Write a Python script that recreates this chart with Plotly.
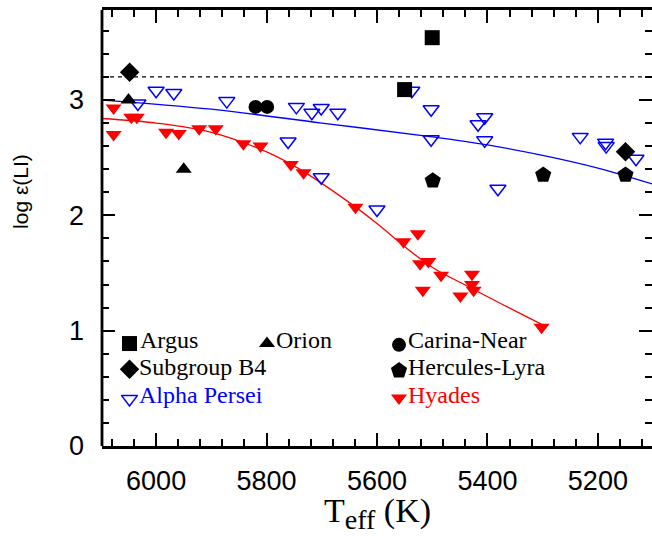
import plotly.graph_objects as go

# ---- measured lithium abundances, log eps(Li) vs Teff (K) ----
argus_teff = [5500, 5550]
argus_li = [3.54, 3.09]

orion_teff = [6050, 5950]
orion_li = [3.00, 2.40]

carina_teff = [5820, 5799]
carina_li = [2.94, 2.94]

b4_teff = [6048, 5150]
b4_li = [3.24, 2.55]

herc_teff = [5499, 5299, 5150]
herc_li = [2.30, 2.35, 2.35]

alpha_teff = [6033, 6000, 5968, 5872, 5746, 5718, 5701, 5671, 5761, 5701, 5600,
              5537, 5502, 5502, 5417, 5405, 5405, 5381, 5232, 5186, 5185, 5131]
alpha_li = [2.97, 3.08, 3.06, 2.99, 2.94, 2.89, 2.93, 2.89, 2.64, 2.33, 2.05,
            3.08, 2.92, 2.66, 2.79, 2.85, 2.65, 2.23, 2.68, 2.63, 2.60, 2.49]

hyades_teff = [6077, 6077, 6045, 6035, 5982, 5959, 5922, 5892, 5842, 5811, 5756, 5733,
               5639, 5552, 5526, 5522, 5507, 5484, 5517, 5449, 5428, 5428, 5425, 5302]
hyades_li = [2.93, 2.70, 2.85, 2.85, 2.72, 2.71, 2.75, 2.75, 2.62, 2.60, 2.44, 2.37,
             2.07, 1.77, 1.84, 1.58, 1.60, 1.48, 1.35, 1.30, 1.49, 1.40, 1.35, 1.03]

# mean trends of the two reference clusters
alpha_fit_teff = [6100, 5900, 5700, 5500, 5400, 5300, 5200, 5100]
alpha_fit_li = [3.00, 2.92, 2.80, 2.68, 2.61, 2.52, 2.41, 2.27]

hyades_fit_teff = [6100, 6000, 5900, 5800, 5740, 5650, 5600, 5550, 5500, 5430, 5370, 5300]
hyades_fit_li = [2.84, 2.80, 2.72, 2.55, 2.40, 2.11, 1.93, 1.73, 1.55, 1.37, 1.22, 1.05]

meteoritic_li = 3.2

x_ticks = [6000, 5800, 5600, 5400, 5200]
y_ticks = [0, 1, 2, 3]

SERIF = "Liberation Serif"
SANS = "Liberation Sans"
BLUE = "#0000ff"
RED = "#ff0000"
TRI = 14

# key entries: (name, symbol, size, fill, line colour, text colour, marker x, marker y, text x, text y)
key_entries = [
    ("Argus", "square", 15, "black", "black", "black", 0.050, 0.235, 0.065, 0.243),
    ("Orion", "triangle-up", TRI, "black", "black", "black", 0.300, 0.235, 0.313, 0.243),
    ("Carina-Near", "circle", 14, "black", "black", "black", 0.540, 0.232, 0.553, 0.243),
    ("Subgroup B4", "diamond", 15, "black", "black", "black", 0.050, 0.176, 0.063, 0.181),
    ("Hercules-Lyra", "pentagon", 17, "black", "black", "black", 0.540, 0.173, 0.553, 0.181),
    ("Alpha Persei", "triangle-down-open", TRI, BLUE, BLUE, BLUE, 0.050, 0.108, 0.063, 0.118),
    ("Hyades", "triangle-down", TRI, RED, RED, RED, 0.540, 0.110, 0.552, 0.118),
]

fig = go.Figure()

fig.add_trace(go.Scatter(x=alpha_fit_teff, y=alpha_fit_li, mode="lines",
                         line=dict(color=BLUE, width=1.3, shape="spline"),
                         showlegend=False, hoverinfo="skip"))
fig.add_trace(go.Scatter(x=hyades_fit_teff, y=hyades_fit_li, mode="lines",
                         line=dict(color=RED, width=1.3, shape="spline"),
                         showlegend=False, hoverinfo="skip"))

fig.add_trace(go.Scatter(x=alpha_teff, y=alpha_li, mode="markers", name="Alpha Persei",
                         marker=dict(symbol="triangle-down-open", size=TRI, color=BLUE,
                                     line=dict(color=BLUE, width=1.5))))
fig.add_trace(go.Scatter(x=hyades_teff, y=hyades_li, mode="markers", name="Hyades",
                         marker=dict(symbol="triangle-down", size=TRI, color=RED,
                                     line=dict(width=0))))

black_groups = [
    ("Argus", argus_teff, argus_li, "square", 15),
    ("Orion", orion_teff, orion_li, "triangle-up", TRI),
    ("Carina-Near", carina_teff, carina_li, "circle", 14),
    ("Subgroup B4", b4_teff, b4_li, "diamond", 15),
    ("Hercules-Lyra", herc_teff, herc_li, "pentagon", 17),
]
for name, tx, ly, sym, sz in black_groups:
    fig.add_trace(go.Scatter(x=tx, y=ly, mode="markers", name=name,
                             marker=dict(symbol=sym, size=sz, color="black",
                                         line=dict(width=0))))

# in-plot key drawn on an overlay axis spanning the plot area
annotations = []
for name, sym, sz, fill, lcol, tcol, mx, my, tx, ty in key_entries:
    fig.add_trace(go.Scatter(x=[mx], y=[my], mode="markers", xaxis="x2", yaxis="y2",
                             marker=dict(symbol=sym, size=sz, color=fill,
                                         line=dict(color=lcol, width=1.5 if "open" in sym else 0)),
                             showlegend=False, hoverinfo="skip"))
    annotations.append(dict(text=name, x=tx, y=ty, xref="paper", yref="paper",
                            xanchor="left", yanchor="middle", showarrow=False,
                            font=dict(family=SERIF, size=24, color=tcol)))

annotations.append(dict(text="T<sub><span style='font-size:28px'>eff</span></sub> (K)",
                        x=0.5, y=-0.155, xref="paper", yref="paper",
                        xanchor="center", yanchor="middle", showarrow=False,
                        font=dict(family=SERIF, size=34, color="black")))
annotations.append(dict(text="log ε(LI)", x=-0.147, y=0.583, xref="paper", yref="paper",
                        xanchor="center", yanchor="middle", textangle=-90, showarrow=False,
                        font=dict(family=SANS, size=21, color="black")))

shapes = [
    dict(type="line", xref="paper", yref="y", x0=0, x1=1, y0=meteoritic_li, y1=meteoritic_li,
         line=dict(color="black", width=1.3, dash="4px,4px")),
    dict(type="line", xref="paper", yref="paper", x0=0, x1=0, y0=0, y1=1,
         line=dict(color="black", width=2.8)),
]

axis_common = dict(
    showgrid=False, zeroline=False, ticks="inside", tickwidth=2, tickcolor="black",
    ticklen=13, tickfont=dict(family=SANS, size=27, color="black"),
)

fig.update_layout(
    width=652, height=536,
    margin=dict(l=102, r=0, t=10, b=90),
    paper_bgcolor="white", plot_bgcolor="white",
    showlegend=False,
    xaxis=dict(range=[6098, 5102], tickvals=x_ticks, showline=True, linewidth=2.8,
               linecolor="black", mirror="ticks", ticklabelstandoff=9,
               minor=dict(dtick=40, tick0=6000, ticks="inside", ticklen=7,
                          tickwidth=2, tickcolor="black"),
               **axis_common),
    yaxis=dict(range=[0, 3.78], tickvals=y_ticks, showline=False, mirror="ticks",
               ticklabelstandoff=17,
               minor=dict(dtick=0.2, tick0=0, ticks="inside", ticklen=7,
                          tickwidth=2, tickcolor="black"),
               **axis_common),
    xaxis2=dict(overlaying="x", range=[0, 1], visible=False),
    yaxis2=dict(overlaying="y", range=[0, 1], visible=False),
    annotations=annotations,
    shapes=shapes,
)

fig.write_html("out.html")
